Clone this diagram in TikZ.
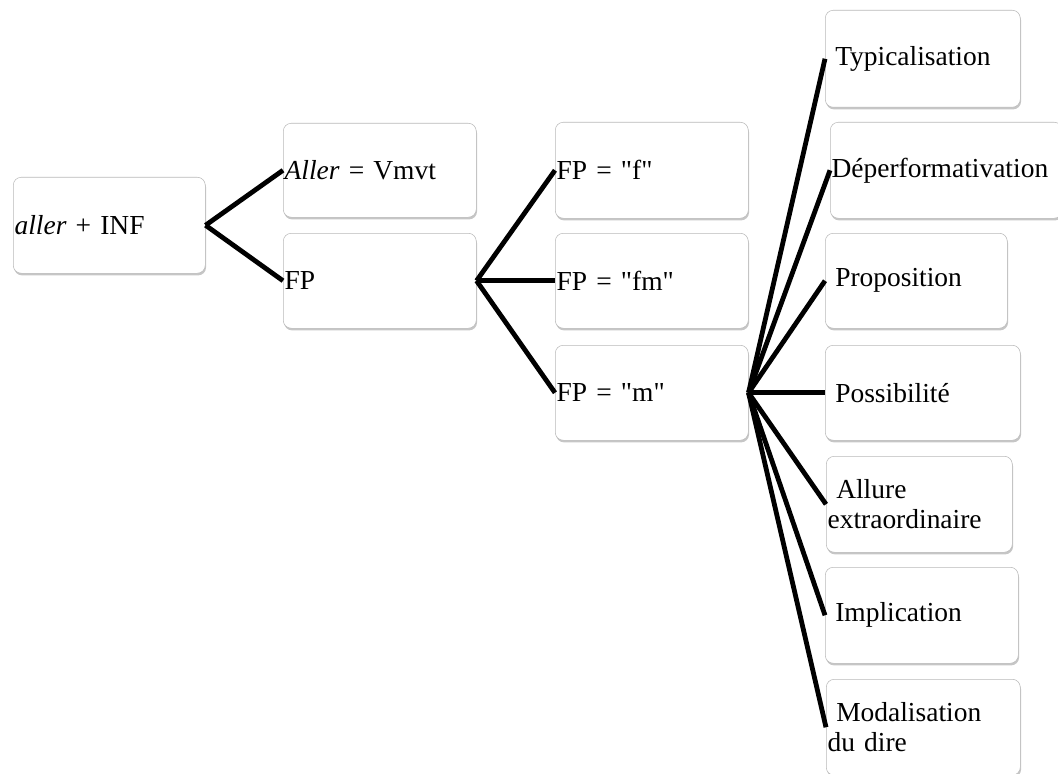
\documentclass[tikz,border=0pt]{standalone}
\usepackage{fontspec}
\setmainfont{Liberation Serif}
\usetikzlibrary{shadows}

\newcommand{\indt}{\hspace*{6.5pt}}
\newcommand{\qt}[1]{\textquotedbl#1\textquotedbl}

\begin{document}
\begin{tikzpicture}[x=0.75pt,y=-0.75pt,
    box/.style={draw=gray!55, fill=white, rounded corners=6pt,
        drop shadow={shadow xshift=0.6pt, shadow yshift=-1.6pt, opacity=0.45, fill=gray},
        anchor=north west, inner xsep=1pt, inner ysep=0pt, align=left,
        font=\fontsize{20.6}{22}\selectfont},
    link/.style={line width=3.6pt}]
    \useasboundingbox (0,0) rectangle (1058,774);

    % premier niveau
    \node[box, text width=142pt, minimum height=72pt] (root) at (13,177) {\textit{aller} + INF};

    % deuxieme niveau
    \node[box, text width=142.75pt, minimum height=70.5pt] (aller) at (283,123) {\textit{Aller} = Vmvt};
    \node[box, text width=142.75pt, minimum height=71.25pt] (fp) at (283,233) {FP};

    % troisieme niveau
    \node[box, text width=142.75pt, minimum height=72pt] (fpf) at (555,122) {FP = \qt{f}};
    \node[box, text width=142.75pt, minimum height=71.25pt] (fpfm) at (555,233) {FP = \qt{fm}};
    \node[box, text width=142.75pt, minimum height=71.25pt] (fpm) at (555,345) {FP = \qt{m}};

    % valeurs de FP = "m"
    \node[box, text width=144.25pt, minimum height=72.75pt] (typ) at (825,10) {\indt Typicalisation};
    \node[box, text width=172pt, minimum height=72pt] (deperf) at (830,122) {Déperformativation};
    \node[box, text width=134.5pt, minimum height=71.25pt] (prop) at (825,233) {\indt Proposition};
    \node[box, text width=144.25pt, minimum height=71.25pt] (poss) at (825,345) {\indt Possibilité};
    \node[box, text width=137.5pt, minimum height=72pt] (allure) at (826,456) {\indt Allure\\extraordinaire};
    \node[box, text width=142.75pt, minimum height=72pt] (impl) at (825,567) {\indt Implication};
    \node[box, text width=143.5pt, minimum height=72pt] (modal) at (826,679) {\indt Modalisation\\du dire};

    % liens
    \draw[link] (root.east) -- (aller.west);
    \draw[link] (root.east) -- (fp.west);
    \foreach \n in {fpf,fpfm,fpm}
        \draw[link] (fp.east) -- (\n.west);
    \foreach \n in {typ,deperf,prop,poss,allure,impl,modal}
        \draw[link] (fpm.east) -- (\n.west);

\end{tikzpicture}
\end{document}
